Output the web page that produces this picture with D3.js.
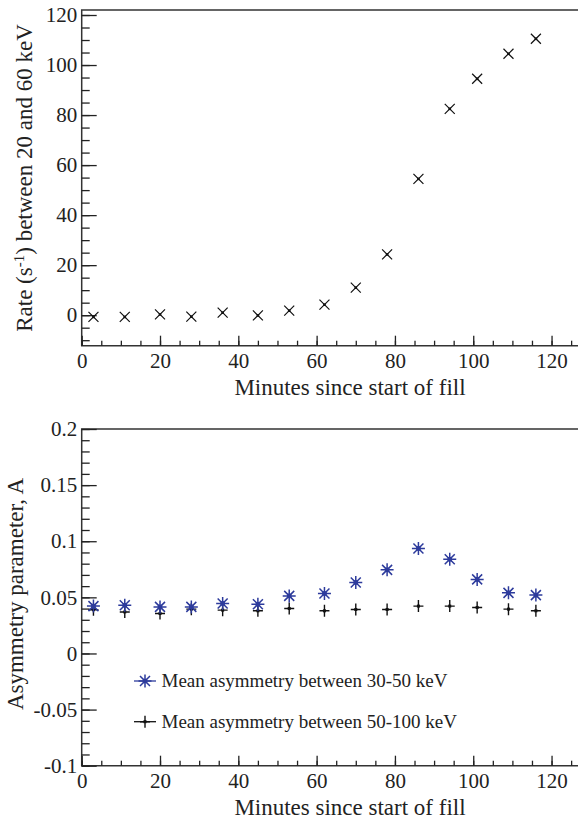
<!DOCTYPE html>
<meta charset="utf-8">
<style>
  body { margin: 0; background: #fff; }
  svg { display: block; }
  .axis text { font-family: "Liberation Serif", "DejaVu Serif", serif; font-size: 21px; fill: #222; }
  .axis line { stroke: #222; stroke-width: 1.3; }
  .axis path { display: none; }
  .title { font-family: "Liberation Serif", "DejaVu Serif", serif; font-size: 23px; fill: #222; }
  .legend text { font-family: "Liberation Serif", "DejaVu Serif", serif; font-size: 19px; fill: #222; }
</style>
<body>
<script src="https://cdnjs.cloudflare.com/ajax/libs/d3/7.8.5/d3.min.js"></script>
<script>
// minutes since start of fill (same for all series)
var minutes = [3, 11, 20, 28, 36, 45, 53, 62, 70, 78, 86, 94, 101, 109, 116];
// rate between 20 and 60 keV (s^-1)
var rate = [-0.7, -0.7, 0.3, -0.6, 1.0, -0.1, 1.8, 4.2, 11.0, 24.3, 54.5, 82.5, 94.5, 104.5, 110.5];
// asymmetry parameter
var asym3050 = [0.0422, 0.0430, 0.0415, 0.0415, 0.0446, 0.0439, 0.0513, 0.0535, 0.0633, 0.0745, 0.0936, 0.0840, 0.0660, 0.0540, 0.0520];
var asym50100 = [0.0390, 0.0370, 0.0356, 0.0395, 0.0386, 0.0380, 0.0401, 0.0380, 0.0392, 0.0392, 0.0422, 0.0422, 0.0410, 0.0395, 0.0380];

var xTicks = [0, 20, 40, 60, 80, 100, 120];
var rateTicks = [0, 20, 40, 60, 80, 100, 120];
var asymTicks = [-0.1, -0.05, 0, 0.05, 0.1, 0.15, 0.2];
var asymLabels = ["-0.1", "-0.05", "0", "0.05", "0.1", "0.15", "0.2"];
var legendKeys = ["Mean asymmetry between 30-50 keV", "Mean asymmetry between 50-100 keV"];

var W = 578, H = 821;
var blue = "#2d3b9c";

var svg = d3.select("body").append("svg")
    .attr("width", W)
    .attr("height", H);

var x = d3.scaleLinear().domain([0, 126.5]).range([81.7, 577]);

function panel(y0, y1, y, yMajor, yMinor, yFmt) {
  var g = svg.append("g");

  // frame (left/top/bottom, right side falls outside the picture)
  g.append("path")
      .attr("d", "M" + (W + 2) + "," + y0 + "H" + x.range()[0] + "V" + y1 + "H" + (W + 2))
      .attr("fill", "none")
      .attr("stroke", "#333")
      .attr("stroke-width", 1.5);

  // x axis, ticks inside
  g.append("g").attr("class", "axis")
      .attr("transform", "translate(0," + y1 + ")")
      .call(d3.axisBottom(x).tickValues(d3.range(0, 127, 5)).tickSize(-5).tickFormat(""));
  g.append("g").attr("class", "axis")
      .attr("transform", "translate(0," + y1 + ")")
      .call(d3.axisBottom(x).tickValues(xTicks).tickSize(-10).tickPadding(0))
    .selectAll("text")
      .attr("y", 0)
      .attr("dy", 22.3);

  // y axis, ticks inside
  g.append("g").attr("class", "axis")
      .attr("transform", "translate(" + x.range()[0] + ",0)")
      .call(d3.axisLeft(y).tickValues(yMinor).tickSize(-8).tickFormat(""));
  g.append("g").attr("class", "axis")
      .attr("transform", "translate(" + x.range()[0] + ",0)")
      .call(d3.axisLeft(y).tickValues(yMajor).tickSize(-15).tickPadding(4.5).tickFormat(yFmt));

  g.append("text").attr("class", "title")
      .attr("x", 350)
      .attr("y", y1 + 49.5)
      .attr("text-anchor", "middle")
      .text("Minutes since start of fill");

  return g;
}

// ---- top panel: rate
var yRate = d3.scaleLinear().domain([-12.2, 122]).range([345.7, 10]);
var topPanel = panel(10, 345.7, yRate, rateTicks, d3.range(-10, 121, 5), d3.format("d"));

var rt = topPanel.append("text").attr("class", "title")
    .attr("transform", "translate(32," + 178 + ") rotate(-90)")
    .attr("text-anchor", "middle");
rt.append("tspan").text("Rate (s");
rt.append("tspan").attr("dy", -8).attr("font-size", "15px").text("-1");
rt.append("tspan").attr("dy", 8).text(") between 20 and 60 keV");

var xs = topPanel.append("g").selectAll("g")
    .data(minutes.map(function(m, i) { return [m, rate[i]]; }))
  .enter().append("g")
    .attr("transform", function(d) { return "translate(" + x(d[0]) + "," + yRate(d[1]) + ")"; });
xs.append("path")
    .attr("d", "M-5,-5L5,5M-5,5L5,-5")
    .attr("stroke", "#111").attr("stroke-width", 1.2);
xs.append("rect").attr("x", -1.3).attr("y", -1.3).attr("width", 2.6).attr("height", 2.6).attr("fill", "#111");

// ---- bottom panel: asymmetry
var yAsym = d3.scaleLinear().domain([-0.1, 0.2]).range([765.7, 429]);
var botPanel = panel(429, 765.7, yAsym, asymTicks, d3.range(-10, 21, 1).map(function(v) { return v / 100; }),
    function(d, i) { return asymLabels[i]; });

botPanel.append("text").attr("class", "title")
    .attr("transform", "translate(23," + 594 + ") rotate(-90)")
    .attr("text-anchor", "middle")
    .text("Asymmetry parameter, A");

var starPath = "M-6.5,0H6.5M0,-6.5V6.5M-5,-5L5,5M-5,5L5,-5";
var plusPath = "M-5,0H5M0,-6V6";

function star(sel) {
  sel.append("path").attr("d", starPath).attr("stroke", blue).attr("stroke-width", 1.5);
  sel.append("rect").attr("x", -2.2).attr("y", -2.2).attr("width", 4.4).attr("height", 4.4).attr("fill", blue);
}
function plus(sel) {
  sel.append("path").attr("d", plusPath).attr("stroke", "#111").attr("stroke-width", 1.4);
  sel.append("rect").attr("x", -1.5).attr("y", -1.5).attr("width", 3).attr("height", 3).attr("fill", "#111");
}

botPanel.append("g").selectAll("g")
    .data(minutes.map(function(m, i) { return [m, asym50100[i]]; }))
  .enter().append("g")
    .attr("transform", function(d) { return "translate(" + x(d[0]) + "," + yAsym(d[1]) + ")"; })
    .call(plus);

botPanel.append("g").selectAll("g")
    .data(minutes.map(function(m, i) { return [m, asym3050[i]]; }))
  .enter().append("g")
    .attr("transform", function(d) { return "translate(" + x(d[0]) + "," + yAsym(d[1]) + ")"; })
    .call(star);

// legend
var legend = botPanel.append("g").attr("class", "legend")
    .attr("transform", "translate(145,681)");
var row = legend.selectAll("g")
    .data(legendKeys)
  .enter().append("g")
    .attr("transform", function(d, i) { return "translate(0," + i * 40.7 + ")"; });
row.append("line")
    .attr("x1", -11).attr("x2", 11)
    .attr("stroke", function(d, i) { return i === 0 ? blue : "#111"; })
    .attr("stroke-width", 1.3);
row.each(function(d, i) { d3.select(this).call(i === 0 ? star : plus); });
row.append("text")
    .attr("x", 16.5)
    .attr("y", 6)
    .text(function(d) { return d; });
</script>
</body>
</html>
